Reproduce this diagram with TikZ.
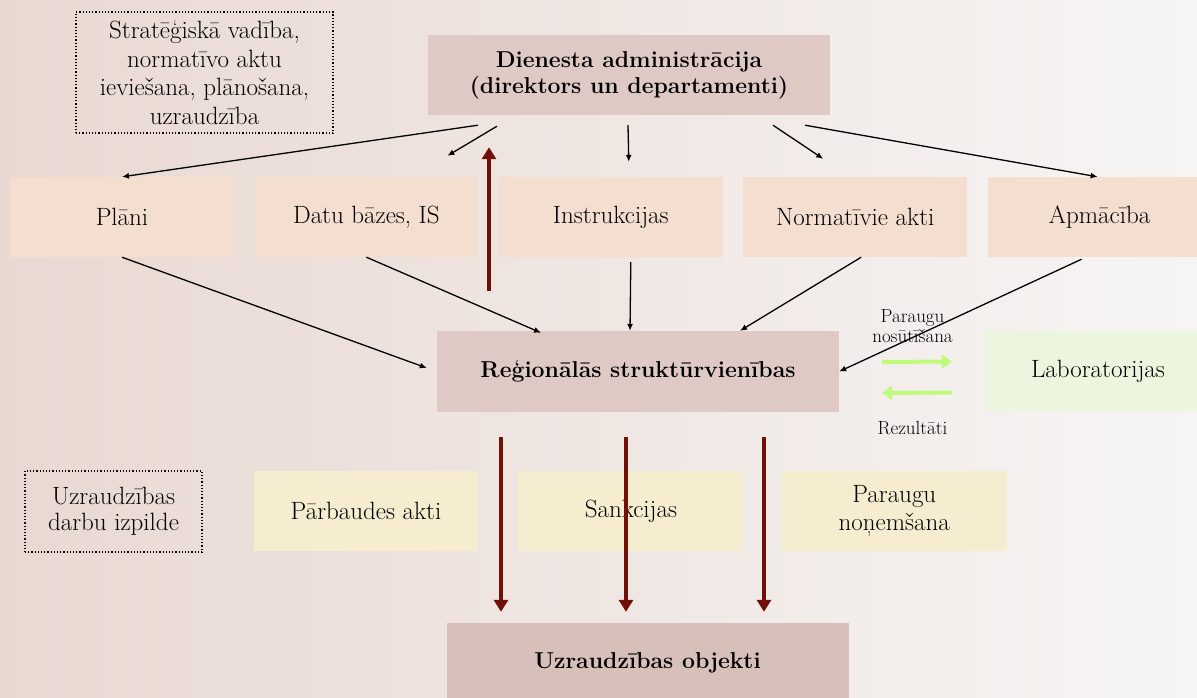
\documentclass[tikz,border=0pt]{standalone}
\usepackage{xcolor}
\usepackage{tikz}
\usetikzlibrary{arrows.meta, positioning}

\definecolor{bgleft}{RGB}{233,216,210}
\definecolor{bgright}{RGB}{246,245,244}
\definecolor{rosebox}{RGB}{222,201,197}
\definecolor{objbox}{RGB}{216,192,186}
\definecolor{peachbox}{RGB}{243,222,208}
\definecolor{sandbox}{RGB}{246,236,208}
\definecolor{labbox}{RGB}{236,246,222}
\definecolor{darkred}{RGB}{112,16,6}
\definecolor{limearrow}{RGB}{192,250,122}

\begin{document}
\begin{tikzpicture}[
    x=1pt, y=-1pt,
    box/.style={minimum width=224pt, minimum height=80pt, inner sep=0pt, align=center, font=\fontsize{25}{30}\selectfont},
    head/.style={box, fill=rosebox, minimum width=402pt, font=\fontsize{23}{26}\selectfont\bfseries},
    tool/.style={box, fill=peachbox},
    work/.style={box, fill=sandbox},
    note/.style={draw, dotted, line width=1.2pt, align=center, inner sep=0pt, font=\fontsize{25}{28.5}\selectfont},
    small/.style={inner sep=0pt, align=center, text=black, font=\fontsize{19}{20}\selectfont},
    link/.style={-{Latex[length=7pt,width=6pt]}, line width=1.3pt},
    flow/.style={-{Triangle[length=12pt,width=14pt]}, line width=4pt, darkred},
    sample/.style={-{Triangle[length=10pt,width=14pt]}, line width=4pt, limearrow}
]
\shade[left color=bgleft, right color=bgright] (0,0) rectangle (1197,697);
\useasboundingbox (0,0) rectangle (1197,697);

% top level
\node[note, minimum width=257pt, minimum height=121pt] (strat) at (204.5,72.5) {Stratēģiskā vadība,\\normatīvo aktu\\ieviešana, plānošana,\\uzraudzība};
\node[head] (admin) at (629,75) {Dienesta administrācija\\(direktors un departamenti)};

% tools
\node[tool] (plani) at (122,217) {Plāni};
\node[tool, right=20pt of plani] (datu) {Datu bāzes, IS};
\node[tool, right=20pt of datu] (instr) {Instrukcijas};
\node[tool, right=20pt of instr] (norm) {Normatīvie akti};
\node[tool, right=20pt of norm] (apm) {Apmācība};

% regional level
\node[head, minimum height=81pt] (reg) at (638,371.5) {Reģionālās struktūrvienības};
\node[box, fill=labbox] (lab) at (1098,371) {Laboratorijas};

% supervision work
\node[note, minimum width=177pt, minimum height=81pt, font=\fontsize{25}{25.5}\selectfont] (izp) at (113.5,511.5) {Uzraudzības\\darbu izpilde};
\node[work] (akti) at (366,511) {Pārbaudes akti};
\node[work, minimum width=225pt, right=40pt of akti] (sank) {Sankcijas};
\node[work, minimum width=225pt, right=38pt of sank, font=\fontsize{25}{28}\selectfont] (paraugi) {Paraugu\\noņemšana};
\node[head, fill=objbox] (obj) at (647.5,663) {Uzraudzības objekti};

% admin -> tools
\draw[link] ([xshift=-151pt,yshift=-10pt]admin.south) -- (plani.north);
\draw[link] ([xshift=-132pt,yshift=-11pt]admin.south) -- ([xshift=81pt,yshift=21pt]datu.north);
\draw[link] ([xshift=-1pt,yshift=-10pt]admin.south) -- ([xshift=18pt,yshift=15pt]instr.north);
\draw[link] ([xshift=144pt,yshift=-10pt]admin.south) -- ([xshift=-32pt,yshift=18pt]norm.north);
\draw[link] ([xshift=176pt,yshift=-10pt]admin.south) -- ([xshift=-2pt]apm.north);

% tools -> regional
\draw[link] (plani.south) -- ([xshift=-10pt,yshift=3.5pt]reg.west);
\draw[link] (datu.south) -- ([xshift=-97pt,yshift=-2pt]reg.north);
\draw[link] ([xshift=20pt,yshift=-5pt]instr.south) -- ([xshift=-8pt]reg.north);
\draw[link] ([xshift=6pt]norm.south) -- ([xshift=102pt]reg.north);
\draw[link] ([xshift=-18pt,yshift=-2pt]apm.south) -- (reg.east);

% feedback
\draw[flow] ([xshift=-149pt,yshift=40pt]reg.north) -- ([xshift=-140pt,yshift=-32pt]admin.south);

% samples
\draw[sample, shorten <=43pt, shorten >=34pt] ([yshift=9.5pt]reg.east) -- node[small, midway, above=17pt] {Paraugu\\nosūtīšana} ([yshift=9.5pt]lab.west);
\draw[sample, shorten <=34pt, shorten >=43pt] ([yshift=-21.5pt]lab.west) -- node[small, midway, below=27pt] {Rezultāti} ([yshift=-21.5pt]reg.east);

% regional -> objects
\draw[flow] ([xshift=-137pt,yshift=-25pt]reg.south) -- ([xshift=-146.5pt,yshift=11pt]obj.north);
\draw[flow] ([xshift=-12pt,yshift=-25pt]reg.south) -- ([xshift=-21.5pt,yshift=11pt]obj.north);
\draw[flow] ([xshift=126pt,yshift=-25pt]reg.south) -- ([xshift=116.5pt,yshift=11pt]obj.north);
\end{tikzpicture}
\end{document}
